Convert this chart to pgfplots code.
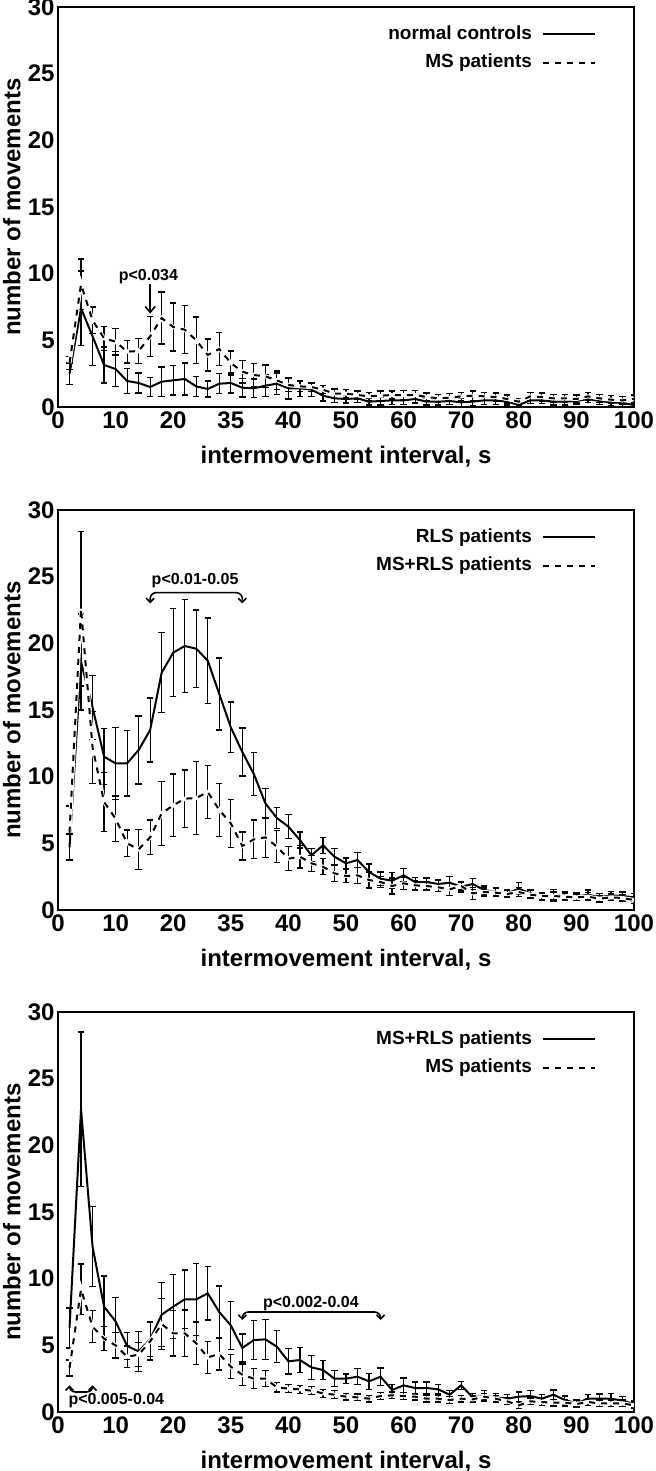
\documentclass[border=0pt]{standalone}
\usepackage{fontspec}
\setmainfont{Liberation Sans}
\usepackage{pgfplots}
\usepackage{pgfplotstable}
\pgfplotsset{compat=1.18}
\usetikzlibrary{arrows.meta}

% Panel 1: normal controls
\pgfplotstableread{
x y e
2 2.5 0.8
4 7.4 2.8
6 5.3 2.2
8 3.15 1.35
10 2.85 1.3
12 1.95 0.95
14 1.8 0.75
16 1.5 0.7
18 1.9 1.1
20 2.0 1.1
22 2.1 1.2
24 1.55 0.75
26 1.35 0.6
28 1.75 0.75
30 1.8 0.75
32 1.45 0.7
34 1.4 0.7
36 1.6 0.8
38 1.75 0.8
40 1.4 0.8
42 1.4 0.6
44 1.3 0.5
46 0.85 0.4
48 0.65 0.3
50 0.6 0.3
52 0.65 0.3
54 0.4 0.25
56 0.45 0.3
58 0.5 0.3
60 0.5 0.3
62 0.6 0.3
64 0.4 0.25
66 0.4 0.25
68 0.45 0.25
70 0.35 0.3
72 0.4 0.3
74 0.5 0.3
76 0.5 0.3
78 0.4 0.25
80 0.15 0.2
82 0.5 0.25
84 0.5 0.25
86 0.4 0.25
88 0.4 0.25
90 0.45 0.25
92 0.6 0.25
94 0.45 0.25
96 0.35 0.25
98 0.3 0.25
100 0.15 0.2
}\tabNC
% Panel 1: MS patients
\pgfplotstableread{
x y e
2 3.3 0.5
4 9.2 1.9
6 6.5 1.0
8 5.15 0.9
10 4.9 1.0
12 4.15 0.85
14 4.2 0.95
16 5.3 1.5
18 6.67 1.95
20 6.0 1.8
22 5.8 1.8
24 5.0 1.75
26 3.9 1.2
28 4.35 1.25
30 3.3 0.9
32 2.65 0.85
34 2.4 0.85
36 2.3 0.85
38 2.0 0.7
40 1.65 0.5
42 1.55 0.4
44 1.5 0.35
46 1.3 0.3
48 1.0 0.35
50 1.0 0.3
52 0.9 0.3
54 0.8 0.3
56 0.85 0.35
58 0.9 0.3
60 0.9 0.35
62 0.9 0.35
64 0.75 0.3
66 0.65 0.3
68 0.7 0.3
70 0.8 0.3
72 0.85 0.35
74 0.8 0.3
76 0.75 0.3
78 0.6 0.3
80 0.4 0.25
82 0.8 0.3
84 0.75 0.3
86 0.65 0.3
88 0.65 0.3
90 0.6 0.3
92 0.8 0.3
94 0.65 0.3
96 0.55 0.3
98 0.5 0.3
100 0.6 0.3
}\tabMSa
% Panel 2: RLS patients
\pgfplotstableread{
x y e
2 4.7 1.0
4 18.6 3.6
6 15.2 2.4
8 11.5 2.1
10 11.0 2.7
12 11.0 2.45
14 12.0 2.55
16 13.5 2.4
18 17.8 3.0
20 19.3 3.3
22 19.8 3.5
24 19.6 2.9
26 18.7 3.2
28 16.2 2.7
30 13.7 1.9
32 11.85 1.8
34 10.2 1.6
36 8.0 1.1
38 6.9 0.8
40 6.25 0.9
42 5.25 0.6
44 4.1 0.5
46 4.85 0.6
48 4.0 0.6
50 3.5 0.4
52 3.75 0.55
54 2.85 0.6
56 2.35 0.5
58 2.2 0.6
60 2.6 0.5
62 2.1 0.35
64 2.1 0.3
66 1.95 0.3
68 2.05 0.45
70 1.75 0.4
72 1.95 0.4
74 1.5 0.3
76 1.35 0.3
78 1.25 0.25
80 1.6 0.45
82 1.25 0.3
84 1.0 0.25
86 1.1 0.45
88 1.05 0.3
90 1.0 0.3
92 1.15 0.35
94 0.95 0.3
96 1.1 0.3
98 1.05 0.3
100 0.95 0.3
}\tabRLS
% Panel 2: MS+RLS patients
\pgfplotstableread{
x y e
2 5.8 2.0
4 22.6 5.8
6 12.2 2.7
8 8.1 2.2
10 6.85 1.7
12 5.0 1.0
14 4.55 1.5
16 5.45 1.3
18 7.25 2.4
20 7.85 2.35
22 8.35 2.15
24 8.4 2.75
26 8.85 2.0
28 7.5 2.0
30 6.5 1.8
32 4.8 1.05
34 5.3 1.45
36 5.45 1.5
38 4.75 1.2
40 3.85 0.9
42 4.0 0.85
44 3.5 0.6
46 3.25 0.6
48 2.75 0.6
50 2.55 0.5
52 2.6 0.6
54 2.25 0.6
56 2.1 0.4
58 1.8 0.6
60 2.0 0.45
62 1.85 0.35
64 1.8 0.3
66 1.7 0.3
68 1.55 0.45
70 1.8 0.3
72 1.25 0.45
74 1.35 0.3
76 1.3 0.3
78 1.2 0.25
80 1.35 0.35
82 1.15 0.3
84 1.05 0.25
86 1.05 0.3
88 1.0 0.25
90 0.95 0.25
92 1.0 0.3
94 0.85 0.25
96 0.95 0.25
98 0.9 0.25
100 0.75 0.25
}\tabMSRLSb
% Panel 3: MS+RLS patients
\pgfplotstableread{
x y e
2 6.3 1.5
4 22.7 5.8
6 12.4 3.0
8 7.9 2.3
10 6.8 1.8
12 4.95 1.0
14 4.55 1.5
16 5.45 1.3
18 7.3 2.4
20 7.9 2.4
22 8.45 2.2
24 8.45 2.7
26 8.9 2.0
28 7.5 1.95
30 6.5 1.8
32 4.8 1.05
34 5.4 1.45
36 5.45 1.5
38 4.9 1.2
40 3.8 0.95
42 3.9 0.95
44 3.35 0.9
46 3.15 0.7
48 2.5 0.6
50 2.5 0.35
52 2.65 0.6
54 2.3 0.6
56 2.65 0.65
58 1.65 0.4
60 2.0 0.55
62 1.8 0.45
64 1.8 0.45
66 1.7 0.35
68 1.3 0.3
70 2.0 0.3
72 1.1 0.3
74 1.2 0.4
76 1.1 0.3
78 1.0 0.3
80 1.15 0.35
82 1.2 0.4
84 1.0 0.3
86 1.3 0.35
88 0.9 0.3
90 0.65 0.25
92 1.0 0.3
94 1.0 0.35
96 1.0 0.4
98 0.85 0.3
100 0.6 0.25
}\tabMSRLSc
% Panel 3: MS patients
\pgfplotstableread{
x y e
2 3.3 0.6
4 9.2 1.9
6 6.4 1.2
8 5.5 0.9
10 5.0 0.95
12 4.15 0.8
14 4.3 0.9
16 5.3 1.4
18 6.6 1.9
20 5.9 1.7
22 5.9 1.75
24 5.15 1.6
26 4.1 1.2
28 4.35 1.2
30 3.4 0.9
32 2.8 0.8
34 2.5 0.75
36 2.5 0.6
38 1.85 0.35
40 1.75 0.3
42 1.7 0.3
44 1.6 0.3
46 1.4 0.3
48 1.3 0.3
50 1.15 0.25
52 1.1 0.25
54 1.0 0.25
56 1.2 0.25
58 1.25 0.25
60 1.2 0.25
62 1.15 0.25
64 1.0 0.25
66 1.0 0.25
68 0.9 0.25
70 1.0 0.25
72 0.95 0.25
74 1.15 0.25
76 1.0 0.25
78 0.8 0.25
80 0.5 0.25
82 0.8 0.25
84 0.75 0.25
86 0.7 0.25
88 0.7 0.25
90 0.6 0.25
92 0.75 0.25
94 0.65 0.25
96 0.65 0.25
98 0.65 0.25
100 0.5 0.25
}\tabMSc

\pgfplotsset{
  panel/.style={
    scale only axis, width=288pt, height=200pt,
    xmin=0, xmax=100, ymin=0, ymax=30,
    xtick={0,10,...,100},
    xticklabels={0,10,20,35,40,50,60,70,80,90,100},
    ytick={0,5,...,30},
    major tick length=0pt,
    axis line style={line width=1.4pt},
    tick label style={font=\bfseries\fontsize{12}{14}\selectfont},
    /pgf/number format/assume math mode=true,
    xlabel={intermovement interval, s},
    ylabel={number of movements},
    label style={font=\bfseries\fontsize{12}{14}\selectfont},
    xlabel style={at={(axis description cs:0.5,-0.125)}, anchor=center},
    ylabel style={at={(axis description cs:-0.08,0.5)}, anchor=center},
    yticklabel style={inner sep=1.5pt},
    xticklabel style={inner sep=2pt},
    legend plot pos=right,
    legend cell align=right,
    legend style={draw=none, fill=none,
      at={(axis description cs:0.945,0.975)}, anchor=north east,
      font=\bfseries\fontsize{9.5}{11}\selectfont, row sep=2pt, column sep=3pt},
    legend image code/.code={\draw[##1] (0pt,0pt) -- (26pt,0pt);},
  },
  ebar/.style={error bars/.cd, y dir=both, y explicit,
    error bar style={black, solid, line width=0.6pt},
    error mark options={black, solid, rotate=90, mark size=1.6pt, line width=0.6pt}},
  solidser/.style={black, line width=1pt, mark=none},
  dashser/.style={black, line width=1pt, mark=none, dash pattern=on 3pt off 3pt},
}

\begin{document}
\begin{tikzpicture}
% ---------------- Panel 1 ----------------
\begin{axis}[panel, at={(29pt,-203.5pt)}, anchor=south west]
\addplot[solidser, ebar] table[x=x, y=y, y error=e] {\tabNC};
\addplot[forget plot, black, line width=0.6pt, mark=none, ebar] table[x=x, y=y, y error=e] {\tabMSa};
\addplot[forget plot, white, line width=2pt, mark=none] table[x=x, y=y] {\tabMSa};
\addplot[dashser] table[x=x, y=y] {\tabMSa};
\legend{normal controls, MS patients}
\node[font=\bfseries\fontsize{8}{9}\selectfont] at (axis cs:15.7,9.8) {p<0.034};
\draw[line width=0.8pt, -{Straight Barb[length=3pt,width=5pt]}] (axis cs:16,9.2) -- (axis cs:16,7.0);
\end{axis}
% ---------------- Panel 2 ----------------
\begin{axis}[panel, at={(29pt,-455pt)}, anchor=south west]
\addplot[solidser, ebar] table[x=x, y=y, y error=e] {\tabRLS};
\addplot[forget plot, black, line width=0.6pt, mark=none, ebar] table[x=x, y=y, y error=e] {\tabMSRLSb};
\addplot[forget plot, white, line width=2pt, mark=none] table[x=x, y=y] {\tabMSRLSb};
\addplot[dashser] table[x=x, y=y] {\tabMSRLSb};
\legend{RLS patients, MS+RLS patients}
\node[font=\bfseries\fontsize{8}{9}\selectfont] at (axis cs:23.8,24.7) {p<0.01-0.05};
\draw[line width=0.8pt, rounded corners=3pt, {Straight Barb[length=2pt,width=4pt]}-{Straight Barb[length=2pt,width=4pt]}] (axis cs:16,23.0) |- (axis cs:32,23.8) -- (axis cs:32,23.0);
\end{axis}
% ---------------- Panel 3 ----------------
\begin{axis}[panel, at={(29pt,-706pt)}, anchor=south west]
\addplot[solidser, ebar] table[x=x, y=y, y error=e] {\tabMSRLSc};
\addplot[forget plot, black, line width=0.6pt, mark=none, ebar] table[x=x, y=y, y error=e] {\tabMSc};
\addplot[forget plot, white, line width=2pt, mark=none] table[x=x, y=y] {\tabMSc};
\addplot[dashser] table[x=x, y=y] {\tabMSc};
\legend{MS+RLS patients, MS patients}
\node[font=\bfseries\fontsize{8}{9}\selectfont] at (axis cs:43.9,8.15) {p<0.002-0.04};
\draw[line width=0.8pt, rounded corners=3pt, {Straight Barb[length=2pt,width=4pt]}-{Straight Barb[length=2pt,width=4pt]}] (axis cs:32,6.9) |- (axis cs:56,7.5) -- (axis cs:56,6.9);
\node[font=\bfseries\fontsize{8}{9}\selectfont, anchor=west] at (axis cs:0.6,0.85) {p<0.005-0.04};
\draw[line width=0.8pt, rounded corners=3pt, {Straight Barb[length=2pt,width=4pt]}-{Straight Barb[length=2pt,width=4pt]}] (axis cs:2,2.0) |- (axis cs:6,1.5) -- (axis cs:6,2.0);
\end{axis}
\pgfresetboundingbox
\path[use as bounding box] (0,0) rectangle (328pt,-735.5pt);
\end{tikzpicture}
\end{document}
